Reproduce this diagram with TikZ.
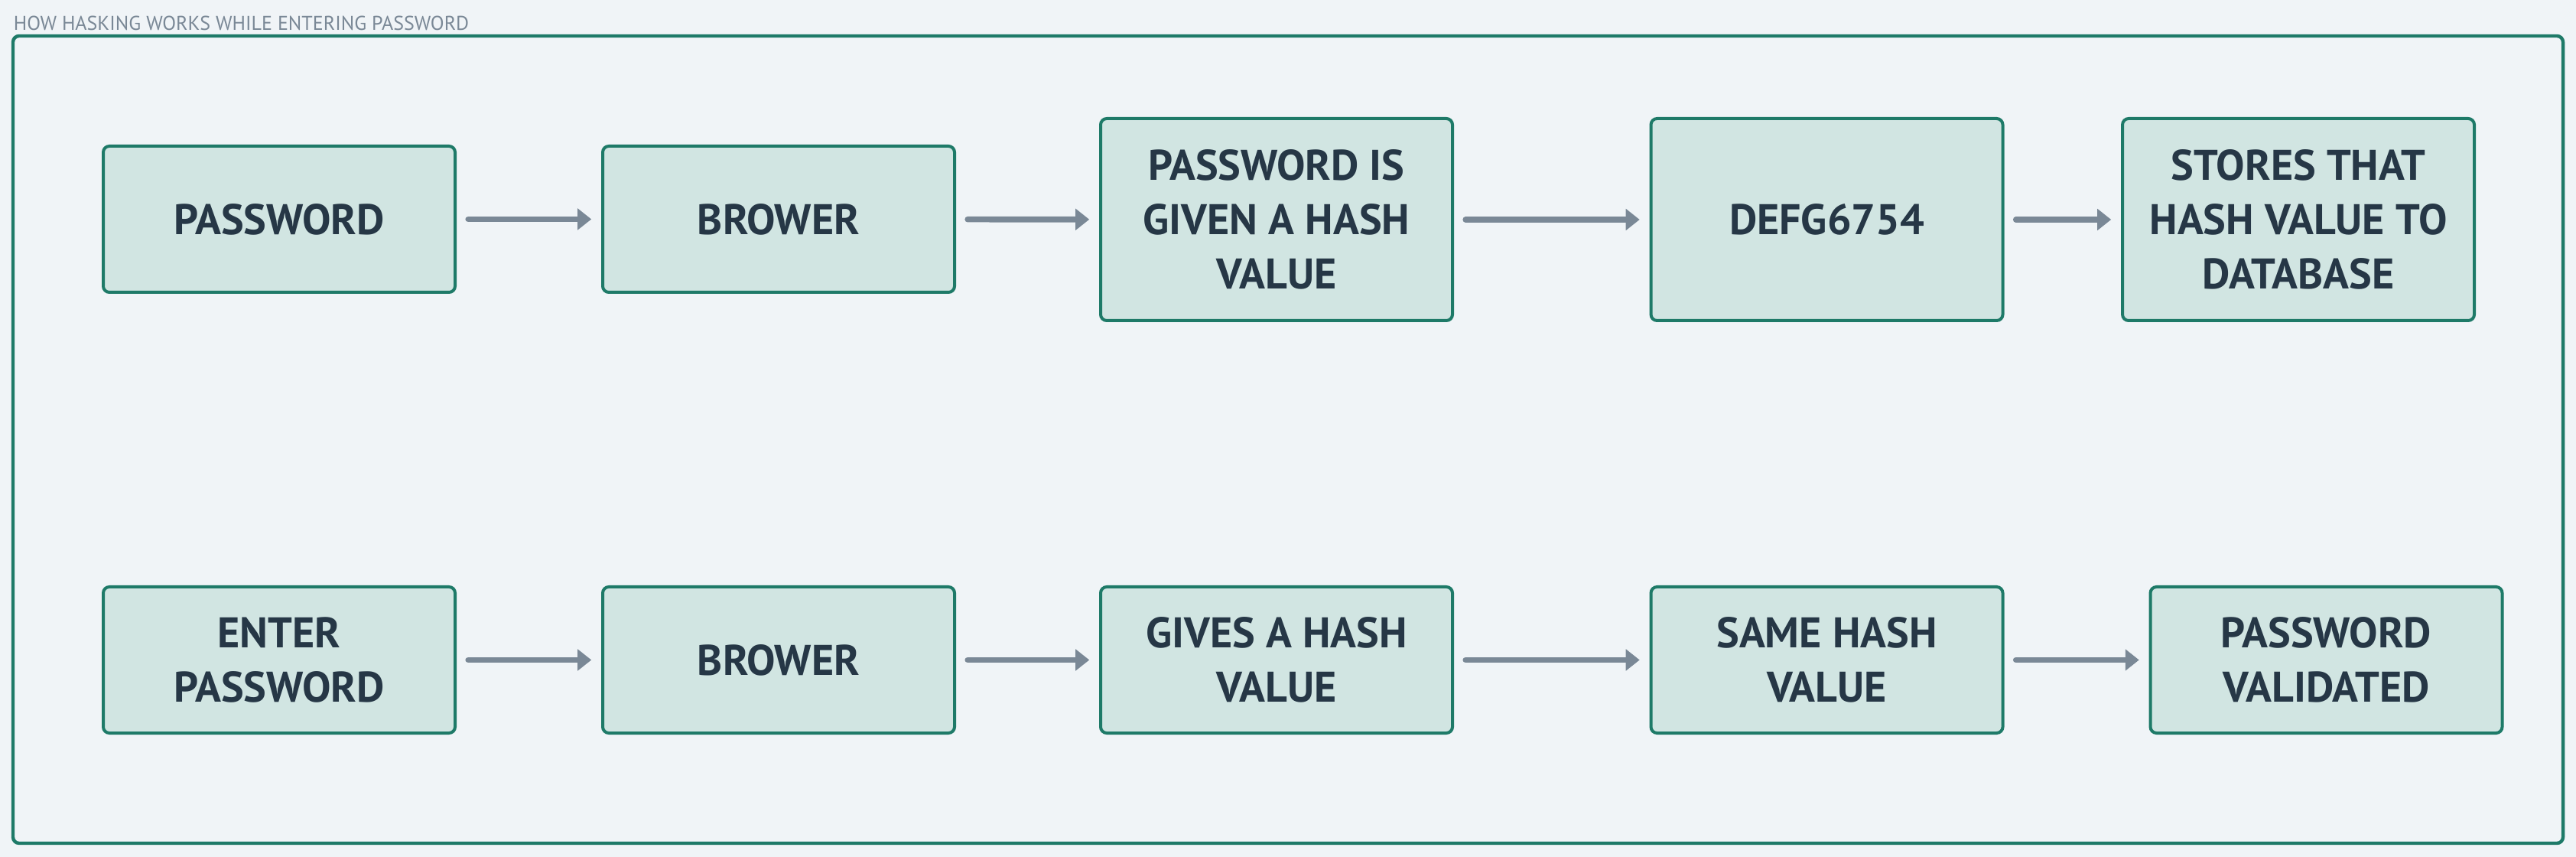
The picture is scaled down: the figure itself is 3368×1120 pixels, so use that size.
\documentclass[tikz,border=0pt]{standalone}
\usepackage{fontspec}
\setmainfont{PT Sans}
\usetikzlibrary{arrows.meta}
\definecolor{bgc}{HTML}{F0F4F7}
\definecolor{boxfill}{HTML}{D1E5E2}
\definecolor{boxline}{HTML}{1E7A68}
\definecolor{txt}{HTML}{263746}
\definecolor{arr}{HTML}{7A8896}
\tikzset{
  flowbox/.style={draw=boxline, fill=boxfill, line width=1pt, rounded corners=2pt,
    minimum width=115pt, minimum height=47.75pt, inner sep=0pt, align=center,
    text=txt, font=\fontsize{14}{17.75}\selectfont\bfseries},
  tallbox/.style={flowbox, minimum height=66pt},
  flowarrow/.style={draw=arr, line width=1.9pt, line cap=round,
    -{Triangle[length=4.5pt,width=6.8pt]}, shorten <=3.8pt, shorten >=3.2pt},
}
\begin{document}
\begin{tikzpicture}[x=0.25pt,y=-0.25pt]
\useasboundingbox (0,0) rectangle (3368,1120);
\fill[bgc] (0,0) rectangle (3368,1120);
\node[anchor=west, text=arr, font=\fontsize{6.5}{7}\selectfont, inner sep=0pt] (title) at (17,30) {HOW HASKING WORKS WHILE ENTERING PASSWORD};
\draw[boxline, line width=1.1pt, rounded corners=2pt] (17,47) rectangle (3351,1102);
% row 1
\node[flowbox] (a1) at (365,286.5) {PASSWORD};
\node[flowbox] (a2) at (1018,286.5) {BROWER};
\node[tallbox] (a3) at (1669,287) {PASSWORD IS\\GIVEN A HASH\\VALUE};
\node[tallbox] (a4) at (2388.5,287) {DEFG6754};
\node[tallbox] (a5) at (3005,287) {STORES THAT\\HASH VALUE TO\\DATABASE};
% row 2
\node[flowbox] (b1) at (365,862.5) {ENTER\\PASSWORD};
\node[flowbox] (b2) at (1018,862.5) {BROWER};
\node[flowbox] (b3) at (1669,862.5) {GIVES A HASH\\VALUE};
\node[flowbox] (b4) at (2388.5,862.5) {SAME HASH\\VALUE};
\node[flowbox] (b5) at (3041.5,862.5) {PASSWORD\\VALIDATED};
\foreach \u/\v in {a1/a2,a2/a3,a3/a4,a4/a5,b1/b2,b2/b3,b3/b4,b4/b5}
  \draw[flowarrow] (\u) -- (\v);
\end{tikzpicture}
\end{document}
